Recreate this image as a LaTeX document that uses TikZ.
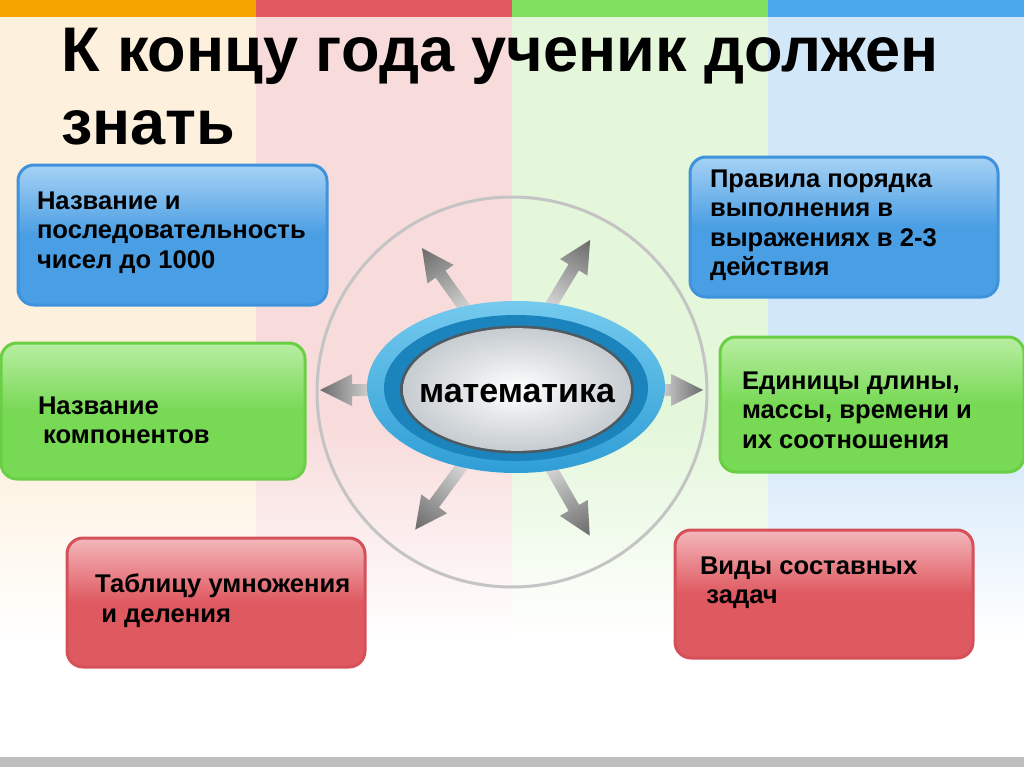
\documentclass[tikz,border=0pt]{standalone}
\usepackage{fontspec}
\setmainfont{Liberation Sans}
\usetikzlibrary{shapes.geometric}
\definecolor{stO}{HTML}{F6A500}
\definecolor{stR}{HTML}{E05A60}
\definecolor{stG}{HTML}{80DF5E}
\definecolor{stB}{HTML}{4BA8EA}
\definecolor{bdO}{HTML}{FDF0DC}
\definecolor{bdR}{HTML}{F8DCDC}
\definecolor{bdG}{HTML}{E4F7DB}
\definecolor{bdB}{HTML}{D2E7F8}
\definecolor{barG}{HTML}{BEBEBE}
\definecolor{ringG}{HTML}{C4C4C4}
\definecolor{arrL}{HTML}{E2E2E2}
\definecolor{arrD}{HTML}{6A6A6A}
\definecolor{elOutT}{HTML}{74CAEE}
\definecolor{elOutB}{HTML}{2F9ED6}
\definecolor{elRing}{HTML}{1B84BD}
\definecolor{elEdge}{HTML}{4E5A62}
\definecolor{elIn}{HTML}{C6CCD0}
\definecolor{mB}{HTML}{4A9EE3}
\definecolor{lB}{HTML}{A6D2F5}
\definecolor{eB}{HTML}{3E93DC}
\definecolor{mG}{HTML}{78D955}
\definecolor{lG}{HTML}{B8EEA2}
\definecolor{eG}{HTML}{69CF45}
\definecolor{mR}{HTML}{DF5961}
\definecolor{lR}{HTML}{F3B7BA}
\definecolor{eR}{HTML}{D6505A}
\newcommand\titlefont{\fontsize{47.3pt}{54.75pt}\selectfont\bfseries}
\newcommand\cardfont{\fontsize{19.2pt}{22pt}\selectfont\bfseries}
\newcommand\mathfont{\fontsize{25.5pt}{30pt}\selectfont\bfseries}
\newcommand\radarrow[4]{%
  \begin{scope}[transform canvas={shift={(#1,#2)},rotate=#3}]
    \shade[left color=arrL, right color=arrD]
      (0,-6) -- ({#4-32},-6) -- ({#4-32},-16) -- (#4,0) -- ({#4-32},16) -- ({#4-32},6) -- (0,6) -- cycle;
  \end{scope}}
\begin{document}
\begin{tikzpicture}[x=0.75pt,y=-0.75pt,
  card/.style={rectangle, rounded corners=12pt, line width=2.25pt, inner sep=0pt, outer sep=0pt, anchor=north west},
  cardblue/.style={card, draw=eB, top color=lB, bottom color=mB, middle color=mB},
  cardgreen/.style={card, draw=eG, top color=lG, bottom color=mG, middle color=mG},
  cardred/.style={card, draw=eR, top color=lR, bottom color=mR, middle color=mR},
  txt/.style={anchor=north west, inner sep=0pt, outer sep=0pt, align=left, font=\cardfont, text=black},
  ell/.style={ellipse, inner sep=0pt, outer sep=0pt}]
\useasboundingbox (0,0) rectangle (1024,767);
\fill[white] (0,0) rectangle (1024,767);
% background bands
\fill[bdO] (0,17) rectangle (256,430);
\shade[top color=bdO, bottom color=white] (0,430) rectangle (256,640);
\fill[bdR] (256,17) rectangle (512,430);
\shade[top color=bdR, bottom color=white] (256,430) rectangle (512,640);
\fill[bdG] (512,17) rectangle (768,430);
\shade[top color=bdG, bottom color=white] (512,430) rectangle (768,640);
\fill[bdB] (768,17) rectangle (1024,430);
\shade[top color=bdB, bottom color=white] (768,430) rectangle (1024,640);
% top stripes
\fill[stO] (0,0) rectangle (256,17);
\fill[stR] (256,0) rectangle (512,17);
\fill[stG] (512,0) rectangle (768,17);
\fill[stB] (768,0) rectangle (1024,17);
% bottom bar
\fill[barG] (0,757) rectangle (1024,767);
% title
\node[anchor=north west, inner sep=0pt, align=left, font=\titlefont] (title) at (61,28)
  {К концу года ученик должен\\знать};
% ring
\node[circle, draw=ringG, line width=2.25pt, minimum size=292.5pt, inner sep=0pt] (ring) at (512,392) {};
% arrows
\radarrow{378}{390}{180}{58}
\radarrow{654}{390}{0}{49}
\radarrow{471.8}{318.2}{125.4}{86}
\radarrow{545.9}{313.6}{59.0}{86}
\radarrow{467.9}{457.9}{-126.3}{89}
\radarrow{546}{459.3}{-60.2}{88}
% central ellipse
\node[ell, top color=elOutT, bottom color=elOutB, minimum width=223.5pt, minimum height=129pt] (outer) at (516,387) {};
\node[ell, fill=elRing, minimum width=198pt, minimum height=109.5pt] (ringin) at (516,388) {};
\node[ell, fill=elEdge, minimum width=175.5pt, minimum height=96pt] (edge) at (517,389.5) {};
\node[ell, inner color=white, outer color=elIn, minimum width=171pt, minimum height=92pt] (inner) at (517,389.5) {};
\node[font=\mathfont, inner sep=0pt] (math) at (517,394) {математика};
% cards
\node[cardblue, minimum width=231.75pt, minimum height=105pt] (b1) at (18,165) {};
\node[txt] (t1) at (37,192) {Название и\\последовательность\\чисел до 1000};
\node[cardgreen, minimum width=228pt, minimum height=102pt] (g1) at (1,343) {};
\node[txt] (t2) at (38,397) {Название\\\hspace*{0.2em}компонентов};
\node[cardblue, minimum width=231pt, minimum height=105pt] (b2) at (690,157) {};
\node[txt] (t3) at (710,170) {Правила порядка\\выполнения в\\выражениях в 2-3\\действия};
\node[cardgreen, minimum width=228pt, minimum height=101.25pt] (g2) at (720,337) {};
\node[txt] (t4) at (742,372) {Единицы длины,\\массы, времени и\\их соотношения};
\node[cardred, minimum width=223.5pt, minimum height=96.75pt] (r1) at (67,538) {};
\node[txt] (t5) at (95,574) {Таблицу умножения\\\hspace*{0.25em}и деления};
\node[cardred, minimum width=223.5pt, minimum height=96pt] (r2) at (675,530) {};
\node[txt] (t6) at (700,557) {Виды составных\\\hspace*{0.25em}задач};
\end{tikzpicture}
\end{document}
